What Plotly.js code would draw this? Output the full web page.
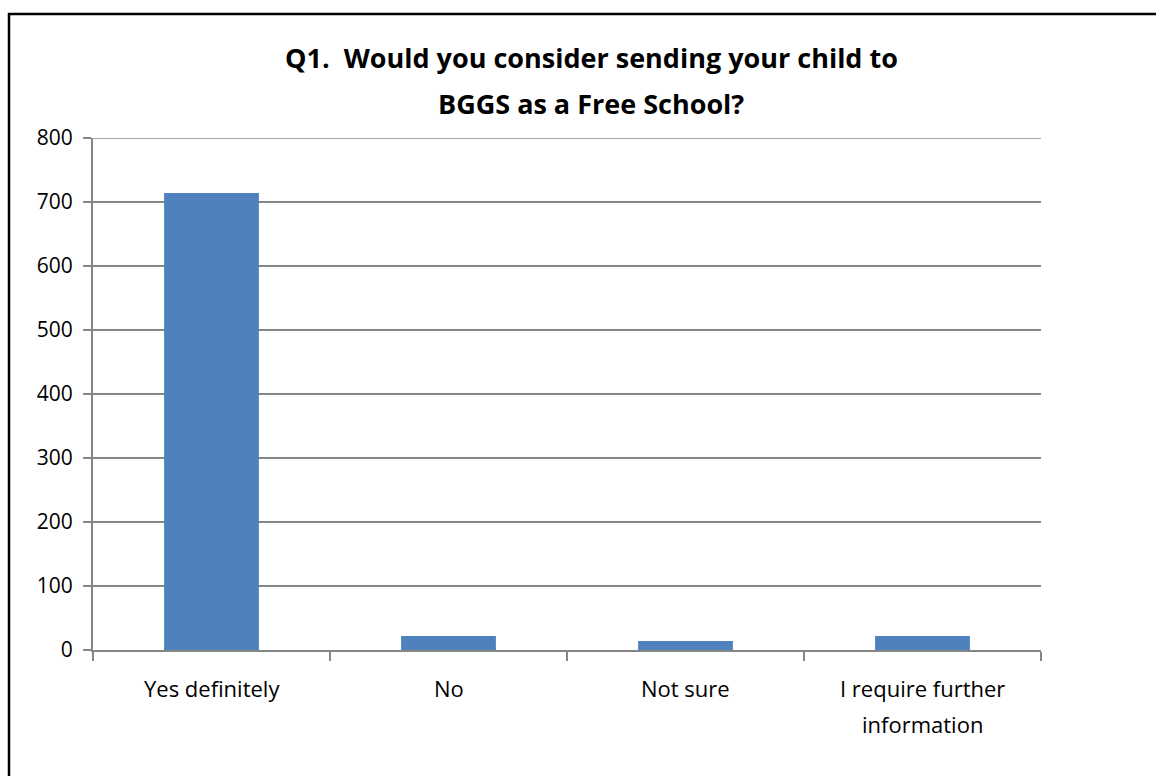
<!DOCTYPE html>
<html>
<head>
<meta charset="utf-8">
<script src="https://cdn.plot.ly/plotly-3.0.1.min.js"></script>
<style>
html,body{margin:0;padding:0;background:#fff;}
#chart{width:1156px;height:776px;}
</style>
</head>
<body>
<div id="chart"></div>
<script>
const categories = ["Yes definitely", "No", "Not sure", "I require further<br>information"];
const counts = [714, 22, 14, 22];
const yTicks = [0, 100, 200, 300, 400, 500, 600, 700, 800];
const chartTitle = "Q1.  Would you consider sending your child to<br>BGGS as a Free School?";

const L = 93, R = 1041, T = 138, B = 650;
const W = R - L, H = B - T;
const FONT = "'Open Sans', Lato, sans-serif";

const trace = {
  type: "bar",
  x: categories,
  y: counts,
  width: 0.4,
  marker: {color: "#4F81BD"},
  hoverinfo: "x+y"
};

const annotations = [];
// category labels, one annotation per text line (to match the wide line spacing)
categories.forEach(function (c) {
  c.split("<br>").forEach(function (line, i) {
    annotations.push({
      xref: "x", x: c, yref: "paper", y: (B - (688 + i * 36)) / H,
      yanchor: "middle", xanchor: "center", showarrow: false,
      text: line, font: {family: FONT, size: 22, color: "#000000"}
    });
  });
});
// chart title, one annotation per line
chartTitle.split("<br>").forEach(function (line, i) {
  annotations.push({
    xref: "paper", x: (591 - L) / W, yref: "paper", y: (B - (57 + i * 46)) / H,
    yanchor: "middle", xanchor: "center", showarrow: false,
    text: "<b>" + line + "</b>",
    font: {family: FONT, size: 27, color: "#000000"}
  });
});

const layout = {
  width: 1156,
  height: 776,
  margin: {l: L, r: 1156 - R, t: T, b: 776 - B, pad: 0},
  paper_bgcolor: "#ffffff",
  plot_bgcolor: "#ffffff",
  font: {family: FONT, color: "#000000", size: 20},
  showlegend: false,
  xaxis: {
    type: "category",
    range: [-0.5, 3.5],
    showline: true, linecolor: "#868686", linewidth: 2,
    ticks: "outside", tickson: "boundaries", ticklen: 9, tickcolor: "#868686", tickwidth: 2,
    showgrid: false,
    showticklabels: false,
    fixedrange: true
  },
  yaxis: {
    range: [0, 800],
    tickvals: yTicks,
    showline: true, linecolor: "#868686", linewidth: 2,
    ticks: "outside", ticklen: 8, tickcolor: "#868686", tickwidth: 2,
    ticklabelstandoff: 6,
    showgrid: true, gridcolor: "#868686", gridwidth: 1.5,
    zeroline: false,
    tickfont: {size: 21, family: FONT},
    fixedrange: true
  },
  annotations: annotations,
  shapes: [
    {
      type: "line", xref: "paper", yref: "y",
      x0: 0, x1: 1, y0: yTicks[yTicks.length - 1], y1: yTicks[yTicks.length - 1],
      line: {color: "#868686", width: 1.5}, layer: "below"
    },
    {
      type: "rect", xref: "paper", yref: "paper",
      x0: (9 - L) / W, x1: (1170 - L) / W,
      y0: (B - 790) / H, y1: (B - 14) / H,
      line: {color: "#000000", width: 2.5},
      fillcolor: "rgba(0,0,0,0)",
      layer: "above"
    }
  ]
};

Plotly.newPlot("chart", [trace], layout, {displayModeBar: false, staticPlot: true});
</script>
</body>
</html>
